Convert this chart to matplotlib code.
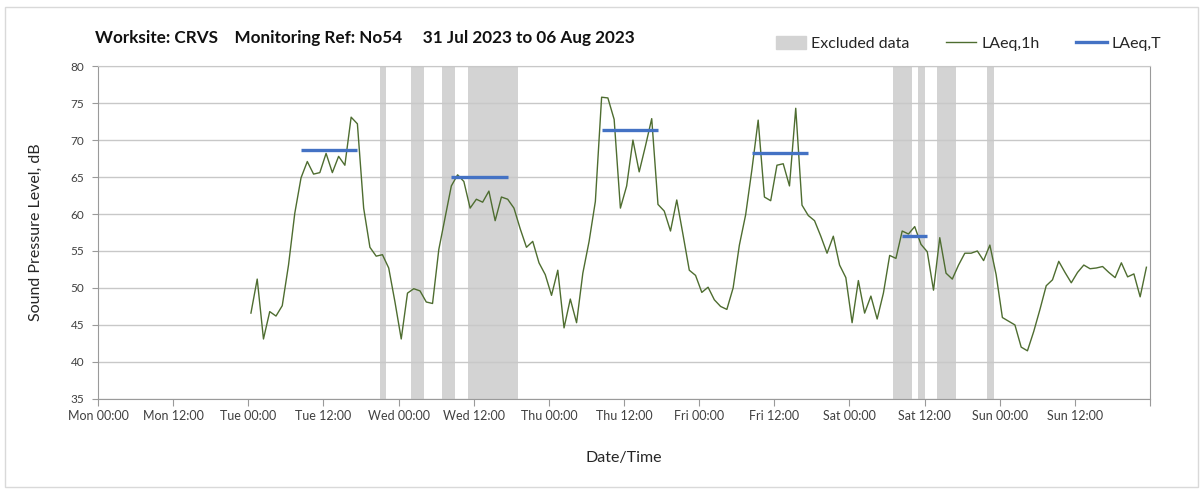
#!/usr/bin/env python3
"""Weekly noise monitoring chart: hourly LAeq with period LAeq,T and excluded data."""

import matplotlib
matplotlib.use("Agg")
import matplotlib.pyplot as plt
import matplotlib.dates as mdates
import matplotlib.patches as mpatches
from matplotlib.lines import Line2D
from matplotlib.ticker import FuncFormatter
import pandas as pd

# Hourly LAeq,1h values, Tue 01 Aug 00:xx to Sun 06 Aug 23:xx
LAEQ_1H = [
    46.6, 51.2, 43.1, 46.8, 46.2, 47.6, 53.1, 60.1, 64.9, 67.1, 65.4, 65.6,
    68.2, 65.6, 67.8, 66.6, 73.1, 72.2, 60.8, 55.5, 54.3, 54.5, 52.7, 48.1,
    43.1, 49.3, 49.9, 49.6, 48.1, 47.9, 55.2, 59.5, 63.8, 65.3, 64.4, 60.8,
    62.0, 61.6, 63.1, 59.1, 62.3, 62.0, 60.8, 58.0, 55.5, 56.3, 53.4, 51.8,
    49.0, 52.4, 44.6, 48.5, 45.3, 52.0, 56.3, 61.7, 75.8, 75.7, 72.8, 60.8,
    63.8, 70.0, 65.7, 69.2, 72.9, 61.3, 60.4, 57.7, 61.9, 57.2, 52.4, 51.7,
    49.4, 50.1, 48.4, 47.5, 47.1, 50.0, 55.8, 59.9, 66.0, 72.7, 62.3, 61.8,
    66.6, 66.8, 63.8, 74.3, 61.2, 59.8, 59.1, 57.0, 54.7, 57.0, 53.1, 51.4,
    45.3, 51.0, 46.6, 48.9, 45.8, 49.3, 54.4, 54.0, 57.7, 57.3, 58.3, 55.9,
    54.9, 49.7, 56.8, 52.0, 51.2, 53.1, 54.7, 54.7, 55.0, 53.7, 55.8, 51.8,
    46.0, 45.5, 45.0, 42.0, 41.5, 44.1, 47.1, 50.3, 51.1, 53.6, 52.1, 50.7,
    52.1, 53.1, 52.6, 52.7, 52.9, 52.1, 51.4, 53.4, 51.5, 51.9, 48.8, 52.8,
]
FIRST_READING = "2023-08-01 00:25"

# LAeq,T periods (first and last hourly reading) and level
PERIOD_START = ["2023-08-01 08:25", "2023-08-02 08:25", "2023-08-03 08:25",
                "2023-08-04 08:25", "2023-08-05 08:25"]
PERIOD_END = ["2023-08-01 17:25", "2023-08-02 17:25", "2023-08-03 17:25",
              "2023-08-04 17:25", "2023-08-05 12:25"]
LAEQ_T = [68.7, 65.0, 71.4, 68.2, 57.0]

# Excluded data windows
EXCL_START = ["2023-08-01 21:00", "2023-08-02 02:00", "2023-08-02 07:00",
              "2023-08-02 11:00", "2023-08-05 07:00", "2023-08-05 11:00",
              "2023-08-05 14:00", "2023-08-05 22:00"]
EXCL_END = ["2023-08-01 22:00", "2023-08-02 04:00", "2023-08-02 09:00",
            "2023-08-02 19:00", "2023-08-05 10:00", "2023-08-05 12:00",
            "2023-08-05 17:00", "2023-08-05 23:00"]

X_START = "2023-07-31 00:00"
X_END = "2023-08-07 00:00"
Y_TICKS = list(range(35, 81, 5))

TITLE = "Worksite: CRVS    Monitoring Ref: No54     31 Jul 2023 to 06 Aug 2023"

GREEN = "#4e6d30"
BLUE = "#4472c4"
GREY_BAND = "#d3d3d3"
TEXT = "#262626"

plt.rcParams["font.family"] = ["Lato", "DejaVu Sans"]

times = pd.date_range(FIRST_READING, periods=len(LAEQ_1H), freq="h")
x_end_num = mdates.date2num(pd.Timestamp(X_END))

fig = plt.figure(figsize=(12.03, 4.90), dpi=100)
ax = fig.add_axes([0.0815, 0.186, 0.8745, 0.679])

# outer chart frame
fig.patches.append(mpatches.Rectangle((0.004, 0.006), 0.992, 0.98, transform=fig.transFigure,
                                      fill=False, edgecolor="#d9d9d9", linewidth=1))

for s, e in zip(EXCL_START, EXCL_END):
    ax.axvspan(pd.Timestamp(s), pd.Timestamp(e), color=GREY_BAND, linewidth=0, zorder=0.3)

ax.plot(times, LAEQ_1H, color=GREEN, linewidth=1.0, zorder=3)

for s, e, v in zip(PERIOD_START, PERIOD_END, LAEQ_T):
    ax.plot([pd.Timestamp(s), pd.Timestamp(e)], [v, v], color=BLUE, linewidth=2.4,
            solid_capstyle="butt", zorder=4)

ax.set_xlim(pd.Timestamp(X_START), pd.Timestamp(X_END))
ax.set_ylim(Y_TICKS[0], Y_TICKS[-1])
ax.set_yticks(Y_TICKS)

day_fmt = mdates.DateFormatter("%a %H:%M")
ax.xaxis.set_major_locator(mdates.HourLocator(byhour=[0, 12]))
# the closing Mon 00:00 tick gets no label
ax.xaxis.set_major_formatter(FuncFormatter(lambda x, pos: "" if x >= x_end_num - 1e-6 else day_fmt(x, pos)))
ax.xaxis.set_minor_locator(mdates.DayLocator())

ax.set_axisbelow(True)
ax.grid(axis="y", which="major", color="#c8c8c8", linewidth=1.0)
ax.grid(axis="x", which="minor", color="#dedede", linewidth=1.0)

for side in ["left", "bottom", "right"]:
    ax.spines[side].set_color("#9a9a9a")
ax.spines["top"].set_color("#c8c8c8")

ax.tick_params(axis="x", which="major", length=5, color="#9a9a9a", labelsize=9,
               labelcolor="#404040", pad=3)
ax.tick_params(axis="x", which="minor", length=0)
ax.tick_params(axis="y", length=4, color="#9a9a9a", labelsize=8.5, labelcolor="#404040", pad=6)

ax.set_ylabel("Sound Pressure Level, dB", fontsize=11.5, color=TEXT, labelpad=20)
ax.set_xlabel("Date/Time", fontsize=11.5, color=TEXT, labelpad=21)

fig.text(0.079, 0.922, TITLE, fontsize=12.3, fontweight="bold", color="#111111",
         ha="left", va="center")

handles = [
    mpatches.Patch(color=GREY_BAND, label="Excluded data"),
    Line2D([], [], color=GREEN, linewidth=1.0, label="LAeq,1h"),
    Line2D([], [], color=BLUE, linewidth=2.4, label="LAeq,T"),
]
fig.legend(handles=handles, ncol=3, loc="center right", bbox_to_anchor=(0.977, 0.912),
           frameon=False, fontsize=11.5, handlelength=1.9, handleheight=0.9,
           handletextpad=0.3, columnspacing=2.3, labelcolor=TEXT)

fig.savefig("out.png", dpi=100, facecolor="white")
